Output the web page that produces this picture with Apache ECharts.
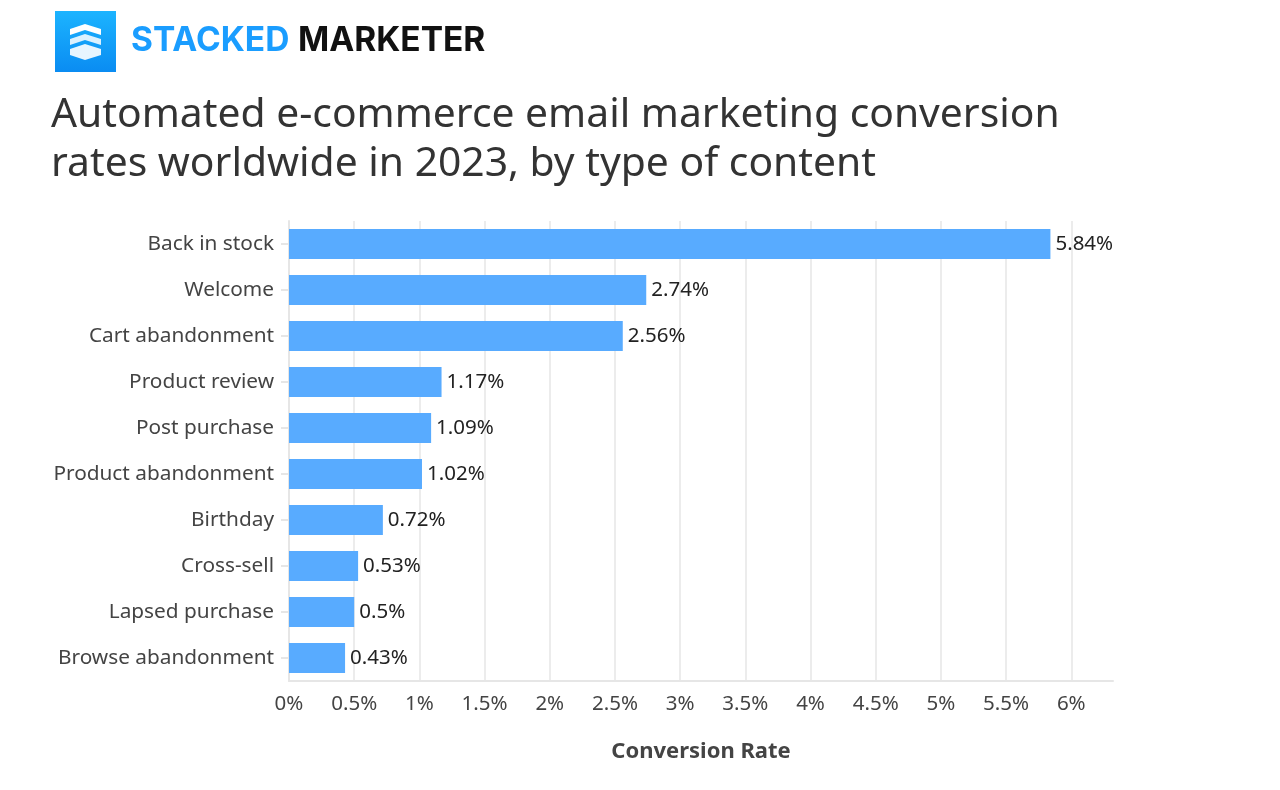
<!DOCTYPE html>
<html>
<head>
<meta charset="utf-8">
<script src="https://cdn.jsdelivr.net/npm/echarts@6/dist/echarts.min.js"></script>
<style>html,body{margin:0;padding:0;background:#fff}#c{width:1280px;height:790px}</style>
</head>
<body>
<div id="c"></div>
<script>
const categories = ["Back in stock","Welcome","Cart abandonment","Product review","Post purchase","Product abandonment","Birthday","Cross-sell","Lapsed purchase","Browse abandonment"];
const values = [5.84, 2.74, 2.56, 1.17, 1.09, 1.02, 0.72, 0.53, 0.5, 0.43];
const titleLines = ["Automated e-commerce email marketing conversion", "rates worldwide in 2023, by type of content"];
const axisName = "Conversion Rate";

const chart = echarts.init(document.getElementById('c'));
const font = "'Noto Sans', sans-serif";
chart.setOption({
  animation: false,
  backgroundColor: '#fff',
  grid: { left: 289, right: 167, top: 221, bottom: 109, containLabel: false },
  graphic: [
    { type: 'rect', shape: { x: 55, y: 11, width: 61, height: 61 },
      style: { fill: new echarts.graphic.LinearGradient(0, 0, 0, 1, [{offset:0,color:'#1cb4ff'},{offset:1,color:'#0a8cf2'}]) } },
    { type: 'polygon', shape: { points: [[70,29],[85,24],[101,29],[101,35],[85,30],[70,35]] }, style: { fill: '#fff' } },
    { type: 'polygon', shape: { points: [[70,39],[85,34],[101,39],[101,45],[85,40],[70,45]] }, style: { fill: 'rgba(255,255,255,0.85)' } },
    { type: 'polygon', shape: { points: [[70,49],[85,44],[101,49],[101,55],[85,60],[70,55]] }, style: { fill: 'rgba(255,255,255,0.9)' } },
    { type: 'text', left: 131, top: 24, style: { text: 'STACKED', fill: '#1a9dff', font: "bold 33.5px Inter, sans-serif" } },
    { type: 'text', left: 298, top: 24, style: { text: 'MARKETER', fill: '#111', font: "bold 33.5px Inter, sans-serif" } },
    { type: 'text', left: 51, top: 91, style: { text: titleLines.join('\n'), fill: '#333', font: "40.8px " + font, lineHeight: 49 } }
  ],
  xAxis: {
    type: 'value', min: 0, max: 6.32, interval: 0.5,
    name: axisName, nameLocation: 'middle', nameGap: 60,
    nameTextStyle: { fontFamily: font, fontSize: 22, fontWeight: 'bold', color: '#444' },
    axisLine: { show: true, lineStyle: { color: '#e6e6e6', width: 2 } },
    axisTick: { show: false },
    axisLabel: { formatter: v => (Math.round(v*100)/100) + '%', fontFamily: font, fontSize: 20.5, color: '#444', margin: 13, showMaxLabel: false },
    splitLine: { show: true, showMaxLine: false, lineStyle: { color: '#ececec', width: 2 } }
  },
  yAxis: {
    type: 'category', data: categories, inverse: true,
    axisLine: { show: true, lineStyle: { color: '#e6e6e6', width: 2 } },
    axisTick: { show: true, alignWithLabel: true, length: 8, lineStyle: { color: '#e6e6e6', width: 2 } },
    axisLabel: { fontFamily: font, fontSize: 20.8, color: '#444', margin: 15 }
  },
  series: [{
    type: 'bar', data: values, barWidth: 30,
    itemStyle: { color: '#58abff' },
    label: { show: true, position: 'right', distance: 5, formatter: p => p.value + '%', fontFamily: font, fontSize: 20.5, color: '#222' }
  }]
});
</script>
</body>
</html>
